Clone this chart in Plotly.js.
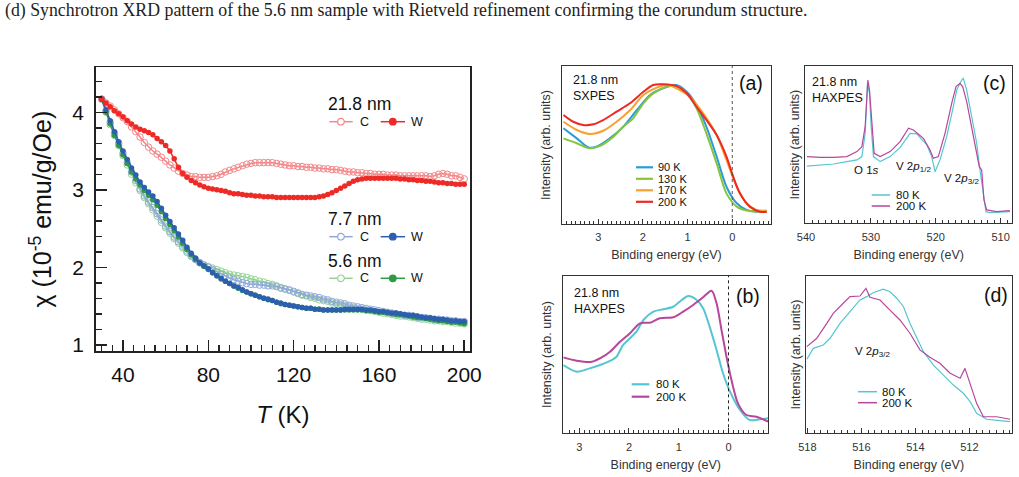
<!DOCTYPE html>
<html><head><meta charset="utf-8">
<script src="https://cdn.plot.ly/plotly-3.0.1.min.js"></script>
<style>html,body{margin:0;padding:0;background:#fff;}#chart{width:1019px;height:477px;}</style>
</head><body><div id="chart"></div>
<script>
// ---------- main panel: susceptibility vs T ----------
const T = [30,32,34,36,38,40,42,44,46,48,50,52,54,56,58,60,62,64,66,68,70,72,74,76,78,80,82,84,86,88,90,92,94,96,98,100,102,104,106,108,110,112,114,116,118,120,122,124,126,128,130,132,134,136,138,140,142,144,146,148,150,152,154,156,158,160,162,164,166,168,170,172,174,176,178,180,182,184,186,188,190,192,194,196,198,200];
const chi_218_W = [4.17,4.12,4.07,4.02,3.98,3.94,3.89,3.85,3.81,3.78,3.76,3.74,3.71,3.66,3.62,3.57,3.50,3.40,3.29,3.21,3.16,3.12,3.09,3.06,3.04,3.02,3.01,3.00,2.99,2.98,2.96,2.95,2.95,2.94,2.93,2.93,2.92,2.92,2.91,2.91,2.91,2.90,2.90,2.90,2.90,2.90,2.90,2.90,2.90,2.90,2.90,2.91,2.92,2.94,2.96,2.99,3.02,3.05,3.08,3.11,3.13,3.14,3.15,3.15,3.15,3.15,3.15,3.15,3.15,3.15,3.14,3.14,3.13,3.13,3.12,3.12,3.11,3.11,3.10,3.09,3.09,3.08,3.08,3.07,3.07,3.07];
const chi_218_C = [4.17,4.12,4.08,4.03,3.98,3.93,3.88,3.81,3.75,3.68,3.61,3.55,3.50,3.46,3.42,3.37,3.32,3.28,3.24,3.21,3.19,3.17,3.17,3.16,3.16,3.16,3.17,3.18,3.20,3.23,3.25,3.27,3.29,3.31,3.33,3.34,3.35,3.35,3.35,3.35,3.35,3.34,3.33,3.32,3.31,3.31,3.30,3.30,3.29,3.29,3.28,3.28,3.27,3.27,3.26,3.26,3.25,3.24,3.23,3.23,3.22,3.22,3.21,3.21,3.20,3.20,3.20,3.19,3.19,3.19,3.18,3.18,3.18,3.18,3.18,3.18,3.18,3.17,3.18,3.20,3.21,3.20,3.18,3.18,3.16,3.14];
const chi_77_W = [4.17,4.03,3.89,3.75,3.62,3.50,3.39,3.28,3.19,3.10,3.03,2.97,2.92,2.85,2.76,2.67,2.59,2.51,2.43,2.35,2.26,2.18,2.12,2.06,2.02,1.98,1.93,1.89,1.86,1.82,1.79,1.76,1.74,1.71,1.68,1.66,1.64,1.62,1.60,1.59,1.57,1.55,1.54,1.52,1.51,1.50,1.49,1.48,1.47,1.47,1.46,1.46,1.45,1.45,1.45,1.45,1.45,1.46,1.46,1.46,1.46,1.46,1.45,1.45,1.44,1.43,1.43,1.42,1.41,1.41,1.40,1.39,1.38,1.38,1.37,1.36,1.35,1.35,1.34,1.33,1.33,1.32,1.31,1.31,1.30,1.30];
const chi_77_C = [4.17,4.02,3.87,3.73,3.60,3.47,3.35,3.23,3.12,3.01,2.92,2.84,2.77,2.69,2.61,2.53,2.46,2.39,2.33,2.27,2.21,2.15,2.10,2.06,2.03,2.00,1.97,1.94,1.91,1.88,1.86,1.84,1.82,1.80,1.79,1.78,1.78,1.77,1.77,1.76,1.76,1.75,1.73,1.72,1.71,1.69,1.67,1.65,1.64,1.63,1.62,1.61,1.59,1.58,1.56,1.55,1.54,1.53,1.51,1.50,1.49,1.48,1.47,1.46,1.45,1.44,1.43,1.42,1.41,1.40,1.39,1.38,1.38,1.37,1.36,1.35,1.35,1.34,1.33,1.33,1.32,1.32,1.31,1.31,1.30,1.30];
const chi_56_W = [4.17,4.00,3.85,3.70,3.57,3.45,3.34,3.23,3.14,3.06,2.99,2.93,2.87,2.80,2.72,2.63,2.55,2.47,2.39,2.31,2.23,2.16,2.10,2.05,2.01,1.97,1.93,1.89,1.85,1.82,1.79,1.76,1.73,1.70,1.68,1.66,1.64,1.62,1.60,1.58,1.57,1.55,1.53,1.52,1.51,1.50,1.49,1.48,1.47,1.47,1.46,1.46,1.45,1.45,1.45,1.45,1.45,1.45,1.45,1.45,1.45,1.45,1.44,1.44,1.43,1.42,1.42,1.41,1.40,1.39,1.39,1.38,1.37,1.36,1.35,1.35,1.34,1.33,1.32,1.31,1.31,1.30,1.29,1.29,1.28,1.27];
const chi_56_C = [4.17,4.00,3.84,3.70,3.57,3.44,3.32,3.20,3.09,2.99,2.90,2.82,2.74,2.66,2.58,2.51,2.44,2.37,2.31,2.25,2.19,2.14,2.10,2.06,2.03,2.01,1.99,1.97,1.95,1.93,1.91,1.90,1.89,1.88,1.87,1.85,1.84,1.82,1.81,1.79,1.78,1.76,1.74,1.72,1.70,1.68,1.66,1.64,1.63,1.61,1.60,1.58,1.57,1.56,1.54,1.53,1.52,1.51,1.49,1.48,1.47,1.46,1.45,1.44,1.43,1.42,1.41,1.40,1.39,1.38,1.37,1.37,1.36,1.35,1.34,1.33,1.33,1.32,1.31,1.31,1.30,1.30,1.29,1.28,1.28,1.27];
const xTicksMain = [40,80,120,160,200];
const yTicksMain = [1,2,3,4];

// ---------- (a) SXPES valence band, 21.8 nm ----------
const a_E_90  = [3.78,3.48,3.22,3.04,2.74,2.44,2.14,1.84,1.55,1.25,1.02,0.80,0.58,0.35,0.13,-0.10,-0.32,-0.54,-0.77];
const a_I_90  = [0.606,0.542,0.485,0.489,0.542,0.616,0.720,0.816,0.859,0.880,0.837,0.753,0.616,0.426,0.236,0.131,0.089,0.078,0.078];
const a_E_130 = [3.78,3.48,3.19,2.96,2.66,2.44,2.22,1.99,1.77,1.47,1.25,1.02,0.80,0.58,0.35,0.13,-0.10,-0.32,-0.62,-0.77];
const a_I_130 = [0.542,0.511,0.479,0.494,0.553,0.616,0.669,0.764,0.827,0.869,0.873,0.827,0.732,0.574,0.384,0.194,0.110,0.085,0.078,0.078];
const a_E_170 = [3.78,3.48,3.19,2.89,2.59,2.29,1.99,1.69,1.47,1.25,0.95,0.65,0.35,0.13,-0.10,-0.32,-0.54,-0.77];
const a_I_170 = [0.647,0.595,0.570,0.590,0.647,0.720,0.816,0.863,0.880,0.859,0.806,0.700,0.563,0.405,0.236,0.131,0.089,0.085];
const a_E_200 = [3.78,3.56,3.34,3.11,2.89,2.59,2.29,1.99,1.77,1.54,1.25,1.02,0.80,0.58,0.35,0.13,-0.02,-0.17,-0.39,-0.62,-0.77];
const a_I_200 = [0.690,0.647,0.627,0.631,0.658,0.711,0.764,0.837,0.880,0.884,0.873,0.827,0.742,0.658,0.563,0.426,0.300,0.194,0.110,0.078,0.078];

// ---------- (b) HAXPES valence band ----------
const b_E_80  = [3.32,3.05,2.79,2.58,2.35,2.25,2.12,1.98,1.85,1.71,1.51,1.31,1.11,0.94,0.81,0.64,0.51,0.38,0.24,0.11,-0.03,-0.23,-0.43,-0.63,-0.80];
const b_I_80  = [0.433,0.391,0.412,0.433,0.465,0.486,0.560,0.603,0.645,0.719,0.772,0.787,0.803,0.846,0.871,0.846,0.793,0.677,0.529,0.381,0.264,0.148,0.084,0.089,0.095];
const b_E_200 = [3.32,3.05,2.75,2.55,2.38,2.18,1.98,1.78,1.58,1.38,1.11,0.91,0.71,0.51,0.34,0.24,0.14,0.04,-0.06,-0.19,-0.36,-0.56,-0.80];
const b_I_200 = [0.482,0.461,0.454,0.482,0.518,0.581,0.635,0.698,0.702,0.730,0.736,0.772,0.814,0.863,0.905,0.825,0.655,0.486,0.338,0.190,0.116,0.105,0.074];

// ---------- (c) HAXPES O 1s / V 2p ----------
const c_E_80  = [539.85,537.80,535.75,533.70,532.15,531.38,530.88,530.52,530.21,529.95,529.60,528.57,527.03,525.49,523.95,522.92,521.38,520.62,520.11,519.34,518.31,517.29,516.77,516.00,515.75,515.23,514.46,513.69,513.18,512.68,512.26,511.65,508.57];
const c_I_80  = [0.364,0.371,0.377,0.392,0.403,0.424,0.572,0.890,0.826,0.614,0.424,0.392,0.424,0.483,0.572,0.568,0.498,0.424,0.328,0.403,0.551,0.742,0.847,0.911,0.921,0.847,0.678,0.509,0.339,0.191,0.074,0.068,0.074];
const c_E_200 = [539.85,537.80,535.75,533.70,532.15,531.38,530.88,530.46,530.21,529.85,529.49,528.57,527.03,525.49,524.20,523.44,521.90,520.88,520.37,519.60,518.57,517.54,516.88,516.26,515.85,515.23,514.46,513.69,513.29,512.92,512.57,512.15,510.62,508.57];
const c_I_200 = [0.424,0.419,0.419,0.424,0.456,0.487,0.614,0.911,0.847,0.614,0.445,0.424,0.456,0.519,0.604,0.593,0.540,0.466,0.413,0.424,0.572,0.763,0.869,0.890,0.869,0.773,0.614,0.445,0.360,0.339,0.148,0.085,0.074,0.080];

// ---------- (d) HAXPES V 2p3/2 ----------
const d_E_80  = [518.02,517.78,517.41,517.16,516.79,516.42,516.05,515.80,515.56,515.19,514.94,514.69,514.44,514.20,513.95,513.70,513.33,512.96,512.59,512.22,511.97,511.73,511.36,510.86,510.49];
const d_I_80  = [0.470,0.539,0.560,0.603,0.698,0.772,0.846,0.867,0.892,0.914,0.898,0.857,0.803,0.698,0.603,0.518,0.433,0.370,0.306,0.254,0.201,0.127,0.089,0.080,0.074];
const d_E_200 = [518.02,517.65,517.28,517.04,516.67,516.42,516.05,515.83,515.68,515.31,514.94,514.57,514.20,513.83,513.46,513.09,512.71,512.34,512.16,511.97,511.73,511.48,510.99,510.49];
const d_I_200 = [0.550,0.603,0.698,0.761,0.825,0.867,0.871,0.920,0.863,0.846,0.782,0.719,0.635,0.529,0.482,0.444,0.381,0.349,0.412,0.317,0.190,0.105,0.105,0.089];

// ---------- styling ----------
const W = 1019, H = 477;
const fx = p => p / W, fy = p => 1 - p / H;
const FONT = 'Liberation Sans, Arial, sans-serif';
const col = {
  rW:'#ee2a26', rC:'#f3878a', bW:'#2c5fae', bC:'#8fa7db', gW:'#2f9a45', gC:'#92d394',
  a90:'#2a9cd8', a130:'#86c440', a170:'#f6a131', a200:'#ec2a24',
  cy:'#55c6d1', mg:'#b8469c'
};

function mainTrace(y, c, filled, name) {
  return {x:T, y:y, xaxis:'x', yaxis:'y', mode:'lines+markers', name:name, showlegend:false,
    line:{color:c, width:1.5},
    marker: filled ? {symbol:'circle', size:5.5, color:c, line:{width:0}}
                   : {symbol:'circle-open', size:6.5, color:c, line:{width:1, color:c}}};
}
function specTrace(x, y, c, ax, name) {
  return {x:x, y:y, xaxis:'x'+ax, yaxis:'y'+ax, mode:'lines', name:name, showlegend:false,
    line:{color:c, width:2, shape:'spline', smoothing:0.8}};
}
function specTraceRaw(x, y, c, ax, name) {
  return {x:x, y:y, xaxis:'x'+ax, yaxis:'y'+ax, mode:'lines', name:name, showlegend:false,
    line:{color:c, width:1.2}};
}

const data = [
  mainTrace(chi_56_C, col.gC, false, '5.6 nm C'),
  mainTrace(chi_77_C, col.bC, false, '7.7 nm C'),
  mainTrace(chi_218_C, col.rC, false, '21.8 nm C'),
  mainTrace(chi_56_W, col.gW, true, '5.6 nm W'),
  mainTrace(chi_77_W, col.bW, true, '7.7 nm W'),
  mainTrace(chi_218_W, col.rW, true, '21.8 nm W'),
  specTrace(a_E_90, a_I_90, col.a90, 2, '90 K'),
  specTrace(a_E_130, a_I_130, col.a130, 2, '130 K'),
  specTrace(a_E_170, a_I_170, col.a170, 2, '170 K'),
  specTrace(a_E_200, a_I_200, col.a200, 2, '200 K'),
  specTraceRaw(c_E_80, c_I_80, col.cy, 3, '80 K'),
  specTraceRaw(c_E_200, c_I_200, col.mg, 3, '200 K'),
  specTrace(b_E_80, b_I_80, col.cy, 4, '80 K'),
  specTrace(b_E_200, b_I_200, col.mg, 4, '200 K'),
  specTraceRaw(d_E_80, d_I_80, col.cy, 5, '80 K'),
  specTraceRaw(d_E_200, d_I_200, col.mg, 5, '200 K')
];

function smallX(dom, yid, range, dtick, minor) {
  return {domain:dom, anchor:yid, range:range, dtick:dtick, tick0:0, ticks:'inside', ticklen:5, tickwidth:1,
    tickcolor:'#333', minor:{dtick:minor, ticks:'inside', ticklen:3, tickwidth:1, tickcolor:'#333'},
    showline:true, mirror:true, linecolor:'#333', linewidth:1, showgrid:false, zeroline:false,
    tickfont:{size:11, color:'#333', family:FONT}, ticklabelstandoff:3,
    title:{text:'Binding energy (eV)', font:{size:12.5, color:'#333', family:FONT}, standoff:8}};
}
function smallY(dom, xid, title, standoff) {
  return {domain:dom, anchor:xid, range:[0,1], showticklabels:false, ticks:'', showgrid:false, zeroline:false,
    showline:true, mirror:true, linecolor:'#333', linewidth:1,
    title:{text:title, font:{size:12.5, color:'#333', family:FONT}, standoff:standoff}};
}

const layout = {
  width:W, height:H, margin:{l:0, r:0, t:0, b:0}, paper_bgcolor:'#fff', plot_bgcolor:'rgba(0,0,0,0)',
  font:{family:FONT, color:'#111'}, showlegend:false,
  xaxis:{domain:[fx(95.7), fx(470)], anchor:'y', range:[27.2, 202.7], tickmode:'array', tickvals:xTicksMain,
    ticks:'inside', ticklen:11, tickwidth:1.5, tickcolor:'#222',
    minor:{dtick:5, tick0:0, ticks:'inside', ticklen:6, tickwidth:1.5, tickcolor:'#222'},
    showline:true, mirror:true, linecolor:'#222', linewidth:1.5, showgrid:false, zeroline:false,
    tickfont:{size:21, color:'#111', family:FONT}, ticklabelstandoff:4,
    title:{text:'<i>T</i> (K)', font:{size:24, color:'#111', family:FONT}, standoff:21}},
  yaxis:{domain:[fy(351), fy(67.3)], anchor:'x', range:[0.92, 4.58], tickmode:'array', tickvals:yTicksMain,
    ticks:'inside', ticklen:11, tickwidth:1.5, tickcolor:'#222',
    minor:{dtick:0.2, tick0:0, ticks:'inside', ticklen:6, tickwidth:1.5, tickcolor:'#222'},
    showline:true, mirror:true, linecolor:'#222', linewidth:1.5, showgrid:false, zeroline:false,
    tickfont:{size:21, color:'#111', family:FONT}, ticklabelstandoff:6,
    title:{text:'χ (10<sup>-5</sup> emu/g/Oe)', font:{size:25, color:'#111', family:FONT}, standoff:13}},
  xaxis2: smallX([fx(562.3), fx(770.7)], 'y2', [3.805, -0.86], 1, 0.1),
  yaxis2: smallY([fy(224), fy(66)], 'x2', 'Intensity (arb. units)', 7),
  xaxis3: smallX([fx(805), fx(1012.3)], 'y3', [540.15, 508.2], 10, 1),
  yaxis3: smallY([fy(223.3), fy(66)], 'x3', 'Intensity (arb. units)', 1),
  xaxis4: smallX([fx(563.3), fx(768.3)], 'y4', [3.32, -0.8], 1, 0.1),
  yaxis4: smallY([fy(433.3), fy(275.7)], 'x4', 'Intensity (arb. unts)', 7),
  xaxis5: smallX([fx(806), fx(1011.7)], 'y5', [518.05, 510.43], 2, 0.25),
  yaxis5: smallY([fy(433.3), fy(275.7)], 'x5', 'Intensity (arb. units)', 1),
  shapes:[], annotations:[]
};

// Fermi level reference lines
layout.shapes.push({type:'line', xref:'x2', yref:'y2 domain', x0:0, x1:0, y0:0, y1:1, line:{color:'#555', width:1, dash:'dot'}});
layout.shapes.push({type:'line', xref:'x4', yref:'y4 domain', x0:0, x1:0, y0:0, y1:1, line:{color:'#222', width:1, dash:'dot'}});

function ann(text, x, y, size, opts) {
  layout.annotations.push(Object.assign({text:text, xref:'paper', yref:'paper', x:fx(x), y:fy(y),
    xanchor:'left', yanchor:'middle', showarrow:false, font:{size:size, color:'#111', family:FONT}}, opts||{}));
}
function lineSeg(x0, x1, y, c, w) {
  layout.shapes.push({type:'line', xref:'paper', yref:'paper', x0:fx(x0), x1:fx(x1), y0:fy(y), y1:fy(y), line:{color:c, width:w}});
}
function circ(cx, cy, r, c, filled) {
  layout.shapes.push({type:'circle', xref:'paper', yref:'paper', x0:fx(cx-r), x1:fx(cx+r), y0:fy(cy+r), y1:fy(cy-r),
    line:{color:c, width:1.2}, fillcolor: filled ? c : '#fff'});
}

// caption
ann('(d) Synchrotron XRD pattern of the 5.6 nm sample with Rietveld refinement confirming the corundum structure.', 3, 10, 17.8,
    {font:{size:17.8, color:'#222', family:'Liberation Serif, DejaVu Serif, serif'}});

// main legend
const mainLeg = [['21.8 nm', 104, 121.7, col.rC, col.rW], ['7.7 nm', 219.3, 236.7, col.bC, col.bW], ['5.6 nm', 260.7, 278.3, col.gC, col.gW]];
mainLeg.forEach(([lab, ty, ry, cc, cw]) => {
  ann(lab, 326, ty, 17.5);
  lineSeg(329.3, 352.7, ry, cc, 1.5); circ(341, ry, 3.3, cc, false);
  ann('C', 357.5, ry, 12.5);
  lineSeg(380.7, 405, ry, cw, 1.5); circ(392.8, ry, 3.3, cw, true);
  ann('W', 408.5, ry, 12.5);
});

// panel (a) labels + legend
ann('21.8 nm<br>SXPES', 571, 88, 12.5, {align:'left'});
ann('(a)', 737, 83, 19.5);
[['90 K',167.3,col.a90],['130 K',178.8,col.a130],['170 K',190.3,col.a170],['200 K',201.8,col.a200]].forEach(([t,y,c]) => {
  lineSeg(636, 653, y, c, 2.2); ann(t, 656, y, 11);
});
// panel (b)
ann('21.8 nm<br>HAXPES', 572, 300.5, 12.5, {align:'left'});
ann('(b)', 734, 295.5, 19.5);
[['80 K',384.3,col.cy],['200 K',396.7,col.mg]].forEach(([t,y,c]) => { lineSeg(631.7, 649.3, y, c, 2.2); ann(t, 654, y, 11.5); });
// panel (c)
ann('21.8 nm<br>HAXPES', 810, 89.5, 12.5, {align:'left'});
ann('(c)', 981, 83, 19.5);
ann('O 1<i>s</i>', 852, 170.5, 11.5);
ann('V 2<i>p</i><sub>1/2</sub>', 894, 167, 11.5);
ann('V 2<i>p</i><sub>3/2</sub>', 942, 179, 11.5);
[['80 K',195,col.cy],['200 K',206,col.mg]].forEach(([t,y,c]) => { lineSeg(871.7, 890, y, c, 1.5); ann(t, 894, y, 11.5); });
// panel (d)
ann('(d)', 982, 295, 19.5);
ann('V 2<i>p</i><sub>3/2</sub>', 853, 352, 11.5);
[['80 K',391.7,col.cy],['200 K',402.7,col.mg]].forEach(([t,y,c]) => { lineSeg(858, 877, y, c, 1.5); ann(t, 880, y, 11.5); });

Plotly.newPlot('chart', data, layout, {staticPlot:true, displayModeBar:false});
</script>
</body></html>
